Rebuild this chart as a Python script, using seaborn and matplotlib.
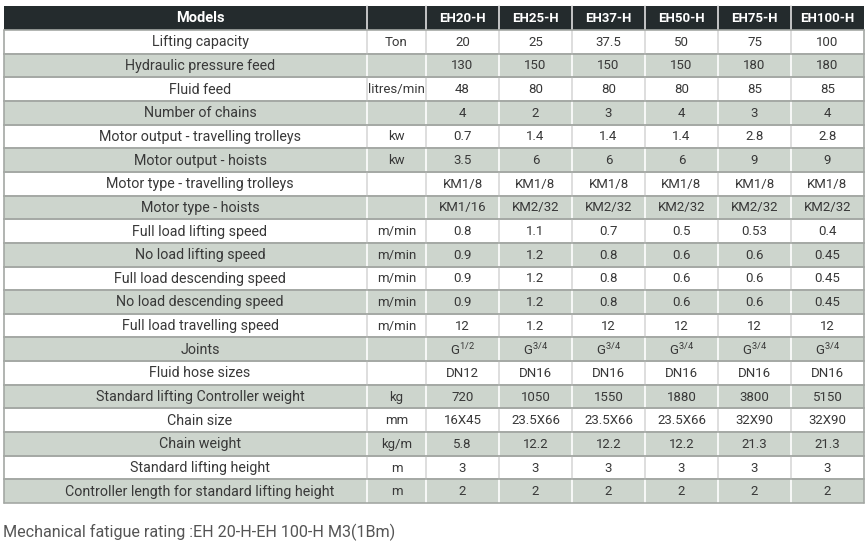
import matplotlib
matplotlib.use("Agg")
import matplotlib.pyplot as plt
import seaborn as sns
from matplotlib.patches import Rectangle

# Table content
models = ["EH20-H", "EH25-H", "EH37-H", "EH50-H", "EH75-H", "EH100-H"]
parameters = [
    "Lifting capacity", "Hydraulic pressure feed", "Fluid feed",
    "Number of chains", "Motor output - travelling trolleys",
    "Motor output - hoists", "Motor type - travelling trolleys",
    "Motor type - hoists", "Full load lifting speed", "No load lifting speed",
    "Full load descending speed", "No load descending speed",
    "Full load travelling speed", "Joints", "Fluid hose sizes",
    "Standard lifting Controller weight", "Chain size", "Chain weight",
    "Standard lifting height", "Controller length for standard lifting height",
]
units = ["Ton", "", "litres/min", "", "kw", "kw", "", "", "m/min", "m/min",
         "m/min", "m/min", "m/min", "", "", "kg", "mm", "kg/m", "m", "m"]
values = [
    ["20", "25", "37.5", "50", "75", "100"],
    ["130", "150", "150", "150", "180", "180"],
    ["48", "80", "80", "80", "85", "85"],
    ["4", "2", "3", "4", "3", "4"],
    ["0.7", "1.4", "1.4", "1.4", "2.8", "2.8"],
    ["3.5", "6", "6", "6", "9", "9"],
    ["KM1/8", "KM1/8", "KM1/8", "KM1/8", "KM1/8", "KM1/8"],
    ["KM1/16", "KM2/32", "KM2/32", "KM2/32", "KM2/32", "KM2/32"],
    ["0.8", "1.1", "0.7", "0.5", "0.53", "0.4"],
    ["0.9", "1.2", "0.8", "0.6", "0.6", "0.45"],
    ["0.9", "1.2", "0.8", "0.6", "0.6", "0.45"],
    ["0.9", "1.2", "0.8", "0.6", "0.6", "0.45"],
    ["12", "1.2", "12", "12", "12", "12"],
    ["G$^{\\mathregular{1/2}}$", "G$^{\\mathregular{3/4}}$",
     "G$^{\\mathregular{3/4}}$", "G$^{\\mathregular{3/4}}$",
     "G$^{\\mathregular{3/4}}$", "G$^{\\mathregular{3/4}}$"],
    ["DN12", "DN16", "DN16", "DN16", "DN16", "DN16"],
    ["720", "1050", "1550", "1880", "3800", "5150"],
    ["16X45", "23.5X66", "23.5X66", "23.5X66", "32X90", "32X90"],
    ["5.8", "12.2", "12.2", "12.2", "21.3", "21.3"],
    ["3", "3", "3", "3", "3", "3"],
    ["2", "2", "2", "2", "2", "2"],
]
footnote = "Mechanical fatigue rating :EH 20-H-EH 100-H M3(1Bm)"

sns.set_theme(style="white")
plt.rcParams["font.family"] = ["Roboto", "DejaVu Sans"]
plt.rcParams["mathtext.fontset"] = "custom"
plt.rcParams["mathtext.rm"] = "Roboto"

# Layout (pixel coordinates)
col_edges = [4, 367, 426, 499, 572, 645, 718, 791, 864]
col_centers = [(a + b) / 2 for a, b in zip(col_edges[:-1], col_edges[1:])]
col_centers[0] = 200  # first column text sits a bit right of centre
top, header_h = 6, 24
row_h = (503 - 30) / len(parameters)
header_col = "#242b2d"
shade_col = "#cdd5cd"
line_col = "#a4a8a4"
text_col = "#383838"

fig = plt.figure(figsize=(8.68, 5.51), dpi=100)
ax = fig.add_axes([0, 0, 1, 1])
ax.set_xlim(0, 868)
ax.set_ylim(551, 0)
ax.axis("off")

# Header
ax.add_patch(Rectangle((col_edges[0], top), col_edges[-1] - col_edges[0],
                       header_h, color=header_col, lw=0))
headers = ["Models", ""] + models
for i, h in enumerate(headers):
    ax.text(col_centers[i], top + header_h / 2 + 0.5, h, color="white",
            fontsize=10.5 if i == 0 else 9.5, fontweight="bold",
            ha="center", va="center")
for x in col_edges[1:-1]:
    ax.plot([x, x], [top, top + header_h], color="#e0e0e0", lw=1.2)

# Body rows
y0 = top + header_h
for r, (param, unit, vals) in enumerate(zip(parameters, units, values)):
    y = y0 + r * row_h
    shaded = r % 2 == 1
    fill = shade_col if shaded else "white"
    ax.add_patch(Rectangle((col_edges[0], y), col_edges[-1] - col_edges[0],
                           row_h, color=fill, lw=0))
    vcol = "white" if shaded else "#d8d8d8"
    for x in col_edges[1:-1]:
        ax.plot([x, x], [y, y + row_h], color=vcol, lw=1.2)
    cells = [param, unit] + vals
    for i, c in enumerate(cells):
        fs = 10.3 if i == 0 else 9.5
        ax.text(col_centers[i], y + row_h / 2 + 0.5, c, color=text_col,
                fontsize=fs, ha="center", va="center")
    ax.plot([col_edges[0], col_edges[-1]], [y + row_h, y + row_h],
            color=line_col, lw=1.2)
    ax.plot([col_edges[0], col_edges[-1]], [y, y], color=line_col, lw=1.2)

# Outer borders
bottom = y0 + len(parameters) * row_h
for x in (col_edges[0], col_edges[-1]):
    ax.plot([x, x], [y0, bottom], color=line_col, lw=1.2)

ax.text(3, 532, footnote, color="#555555", fontsize=11.6, ha="left",
        va="center")

fig.savefig("out.png", dpi=100)
